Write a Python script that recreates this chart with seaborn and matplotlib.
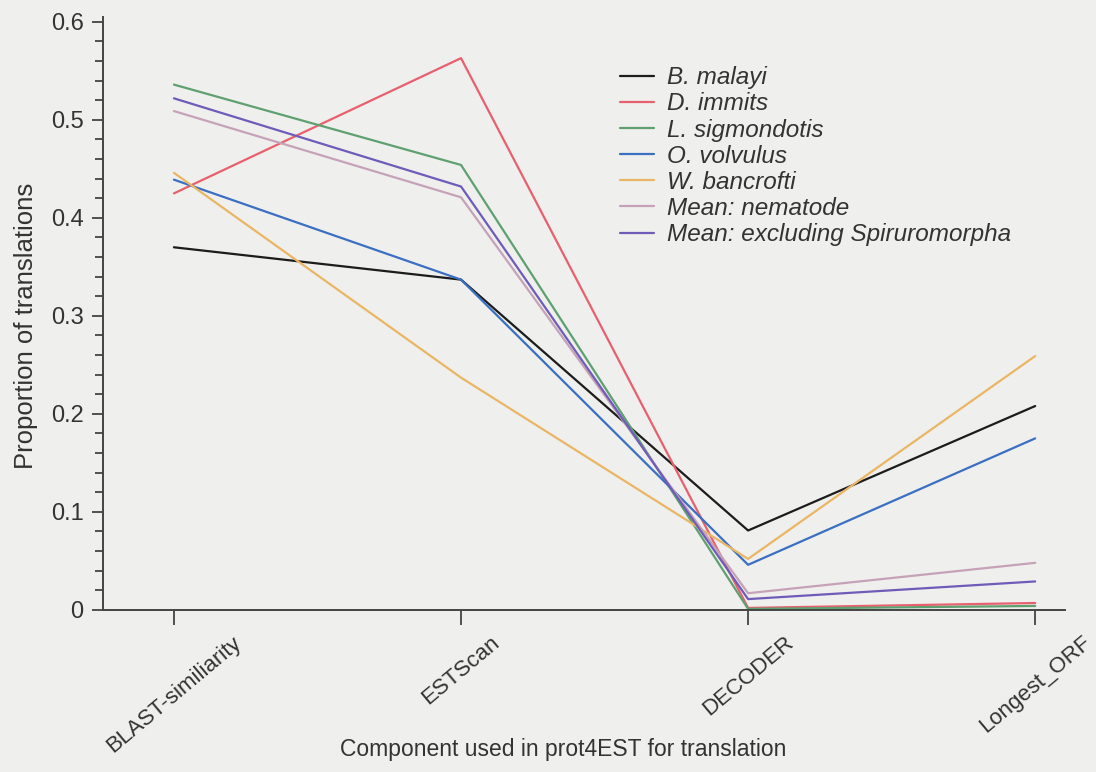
import matplotlib
matplotlib.use("Agg")
import matplotlib.pyplot as plt
import seaborn as sns
import pandas as pd
from matplotlib.ticker import MultipleLocator

components = ["BLAST-similiarity", "ESTScan", "DECODER", "Longest_ORF"]
series_names = ["B. malayi", "D. immits", "L. sigmondotis", "O. volvulus",
                "W. bancrofti", "Mean: nematode", "Mean: excluding Spiruromorpha"]
b_malayi = [0.370, 0.337, 0.081, 0.208]
d_immits = [0.425, 0.563, 0.002, 0.007]
l_sigmondotis = [0.536, 0.454, 0.001, 0.004]
o_volvulus = [0.439, 0.337, 0.046, 0.175]
w_bancrofti = [0.446, 0.237, 0.052, 0.259]
mean_nematode = [0.509, 0.421, 0.017, 0.048]
mean_excl = [0.522, 0.432, 0.011, 0.029]
y_tick_labels = ["0", "0.1", "0.2", "0.3", "0.4", "0.5", "0.6"]
values = [b_malayi, d_immits, l_sigmondotis, o_volvulus, w_bancrofti, mean_nematode, mean_excl]
colors = ["#1c1c1c", "#e8606e", "#5fa070", "#3b6fc2", "#eab665", "#c6a2b8", "#6f5cb8"]

rows = []
for name, vals in zip(series_names, values):
    for i, v in enumerate(vals):
        rows.append({"series": name, "pos": i, "value": v})
df = pd.DataFrame(rows)

sns.set_style("ticks")
plt.rcParams["font.family"] = ["Liberation Sans", "DejaVu Sans"]

fig = plt.figure(figsize=(10.96, 7.72), dpi=100, facecolor="#efefed")
ax = fig.add_axes([0.094, 0.210, 0.878, 0.768])
ax.set_facecolor("#efefed")

sns.lineplot(data=df, x="pos", y="value", hue="series", hue_order=series_names,
             palette=dict(zip(series_names, colors)), linewidth=1.6, ax=ax,
             estimator=None, sort=False)

ax.set_xlim(-0.247, 3.105)
ax.set_ylim(0, 0.605)
ax.set_xticks(range(len(components)))
ax.set_xticklabels(components, rotation=40, ha="center", fontsize=16, color="#333333")
ax.set_yticks([float(t) for t in y_tick_labels])
ax.set_yticklabels(y_tick_labels, fontsize=17, color="#333333")
ax.yaxis.set_minor_locator(MultipleLocator(0.02))
ax.tick_params(axis="x", length=11, width=1.3, color="#444444", pad=5)
ax.tick_params(axis="y", which="major", length=8, width=1.3, color="#444444", pad=6)
ax.tick_params(axis="y", which="minor", length=6, width=1.3, color="#444444")
for s in ["top", "right"]:
    ax.spines[s].set_visible(False)
for s in ["left", "bottom"]:
    ax.spines[s].set_color("#444444")
    ax.spines[s].set_linewidth(1.4)

ax.set_xlabel("Component used in prot4EST for translation", fontsize=16.5, color="#333333")
ax.xaxis.set_label_coords(0.478, -0.216)
ax.set_ylabel("Proportion of translations", fontsize=18.5, color="#333333")
ax.yaxis.set_label_coords(-0.068, 0.479)

leg = ax.legend(loc="upper left", bbox_to_anchor=(0.537, 0.917), frameon=False,
                fontsize=17.5, handlelength=1.4, handletextpad=0.55, labelspacing=0.13,
                borderpad=0, borderaxespad=0, title=None)
for t in leg.get_texts():
    t.set_fontstyle("italic")
    t.set_color("#333333")

fig.savefig("out.png", dpi=100, facecolor=fig.get_facecolor())
